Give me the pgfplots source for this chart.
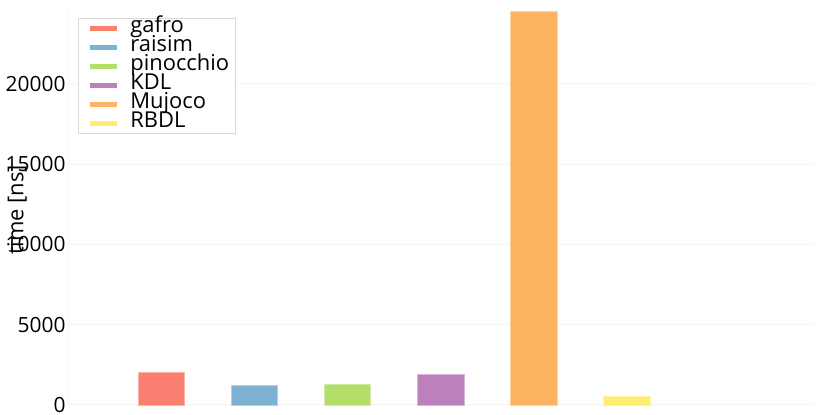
\documentclass[border=0pt]{standalone}
\usepackage{pgfplots}
\pgfplotsset{compat=1.18}
\usepackage{fontspec}
\setmainfont{Open Sans}
\definecolor{cgafro}{HTML}{FB8072}
\definecolor{craisim}{HTML}{80B1D3}
\definecolor{cpino}{HTML}{B3DE69}
\definecolor{ckdl}{HTML}{BC80BD}
\definecolor{cmujoco}{HTML}{FDB462}
\definecolor{crbdl}{HTML}{FFED6F}
\pgfplotsset{
  swatch/.style={legend image code/.code={\path[draw=none, fill=none] (0bp,0bp) -- (46bp,0bp); \draw[line width=5.5bp, #1] (6bp,0bp) -- (33bp,0bp);}}
}
\begin{document}
\begin{tikzpicture}
\useasboundingbox (0,0) rectangle (830bp,415bp);
\begin{axis}[
  at={(68bp,10bp)}, anchor=south west,
  scale only axis, width=745bp, height=395bp,
  xmin=-1, xmax=7, ymin=0, ymax=24600,
  axis line style={draw=none},
  major tick style={draw=none},
  xtick=\empty,
  extra x ticks={-1}, extra x tick labels={},
  extra x tick style={grid=major, major grid style={color=black!4, line width=1bp}},
  ytick={0,5000,10000,15000,20000},
  ymajorgrids, major grid style={color=black!4, line width=1bp},
  scaled y ticks=false,
  /pgf/number format/1000 sep={},
  /pgf/number format/assume math mode=true,
  yticklabel style={font=\fontsize{21}{21}\selectfont, xshift=1bp},
  ylabel={time [ns]},
  ylabel style={at={(axis description cs:0,0.494)}, anchor=center, yshift=51bp, font=\fontsize{22}{22}\selectfont},
  clip=false,
  legend cell align=left,
  legend style={at={(0.0134,0.98)}, anchor=north west, draw=black!15, line width=0.8bp,
    font=\fontsize{22}{19}\selectfont, inner xsep=6bp, inner ysep=0.5bp, row sep=0pt, column sep=0pt,
    nodes={inner sep=0pt, text height=14bp, text depth=5bp}},
  bar width=0.5,
]
\addplot[ybar, bar shift=0pt, fill=cgafro, draw=cgafro!60!white, swatch=cgafro] coordinates {(0,2036)};
\addlegendentry{gafro}
\addplot[ybar, bar shift=0pt, fill=craisim, draw=craisim!60!white, swatch=craisim] coordinates {(1,1226)};
\addlegendentry{raisim}
\addplot[ybar, bar shift=0pt, fill=cpino, draw=cpino!60!white, swatch=cpino] coordinates {(2,1290)};
\addlegendentry{pinocchio\hspace{5bp}}
\addplot[ybar, bar shift=0pt, fill=ckdl, draw=ckdl!60!white, swatch=ckdl] coordinates {(3,1930)};
\addlegendentry{KDL}
\addplot[ybar, bar shift=0pt, fill=cmujoco, draw=cmujoco!60!white, swatch=cmujoco] coordinates {(4,24550)};
\addlegendentry{Mujoco}
\addplot[ybar, bar shift=0pt, fill=crbdl, draw=crbdl!60!white, swatch=crbdl] coordinates {(5,560)};
\addlegendentry{RBDL}
\end{axis}
\end{tikzpicture}
\end{document}
